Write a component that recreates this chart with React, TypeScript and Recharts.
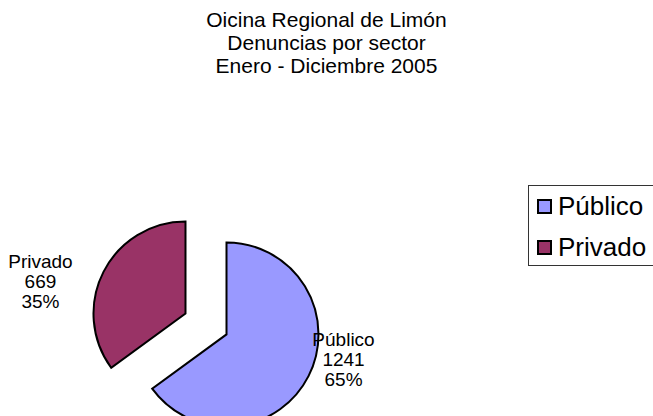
import React from 'react';
import { PieChart, Pie, Cell, Sector, Legend } from 'recharts';

// Oficina Regional de Limón - denuncias por sector, 2005
const sectors = ['Público', 'Privado'];
const counts = [1241, 669];
const percents = ['65%', '35%'];
const colors = ['#9999FF', '#993366'];
const titleLines = ['Oicina Regional de Limón', 'Denuncias por sector', 'Enero - Diciembre 2005'];

const data = sectors.map((name, i) => ({ name, value: counts[i], pct: percents[i] }));

const RAD = Math.PI / 180;
const EXPLODE = 23;
const FONT = 'Liberation Sans, Arial, sans-serif';

// exploded slice: push every sector outward along its mid angle
const ExplodedSector = (props: any) => {
  const { cx, cy, midAngle } = props;
  const dx = Math.cos(-midAngle * RAD) * EXPLODE;
  const dy = Math.sin(-midAngle * RAD) * EXPLODE;
  return <Sector {...props} cx={cx + dx} cy={cy + dy} />;
};

const renderLabel = (props: any) => {
  const { cx, cy, midAngle, payload } = props;
  const x = cx + Math.cos(-midAngle * RAD) * 170 - 14;
  const y = cy + Math.sin(-midAngle * RAD) * 85;
  return (
    <text x={x} y={y - 17} textAnchor="middle" fontSize={19} fill="#000" fontFamily={FONT}>
      <tspan x={x} dy={0}>{payload.name}</tspan>
      <tspan x={x} dy={20}>{payload.value}</tspan>
      <tspan x={x} dy={20}>{payload.pct}</tspan>
    </text>
  );
};

const LegendBox = () => (
  <div
    style={{
      border: '1px solid #333',
      width: 130,
      height: 79,
      boxSizing: 'content-box',
      padding: '0 0 0 8px',
      background: '#fff',
      fontFamily: FONT,
      fontSize: 26,
    }}
  >
    {data.map((d, i) => (
      <div key={d.name} style={{ display: 'flex', alignItems: 'center', height: 41, whiteSpace: 'nowrap' }}>
        <span
          style={{
            display: 'inline-block',
            width: 11,
            height: 11,
            background: colors[i],
            border: '2px solid #000',
            marginRight: 6,
          }}
        />
        <span style={{ color: '#000' }}>{d.name}</span>
      </div>
    ))}
  </div>
);

export default function App() {
  return (
    <div style={{ position: 'absolute', left: 0, top: 0, width: 653, height: 416, background: '#fff', overflow: 'hidden' }}>
      <div
        style={{
          position: 'absolute',
          left: 0,
          top: 8,
          width: 653,
          textAlign: 'center',
          fontFamily: FONT,
          fontSize: 21,
          lineHeight: '23px',
          color: '#000',
        }}
      >
        {titleLines.map((t) => (
          <div key={t}>{t}</div>
        ))}
      </div>
      <PieChart width={653} height={416}>
        <Pie
          data={data}
          dataKey="value"
          nameKey="name"
          cx={201}
          cy={319}
          outerRadius={92}
          startAngle={90}
          endAngle={-270}
          stroke="#000"
          strokeWidth={2}
          shape={ExplodedSector}
          label={renderLabel}
          labelLine={false}
          isAnimationActive={false}
        >
          {data.map((d, i) => (
            <Cell key={d.name} fill={colors[i]} />
          ))}
        </Pie>
        <Legend
          content={<LegendBox />}
          wrapperStyle={{ position: 'absolute', left: 528, top: 185, width: 140 }}
        />
      </PieChart>
    </div>
  );
}
